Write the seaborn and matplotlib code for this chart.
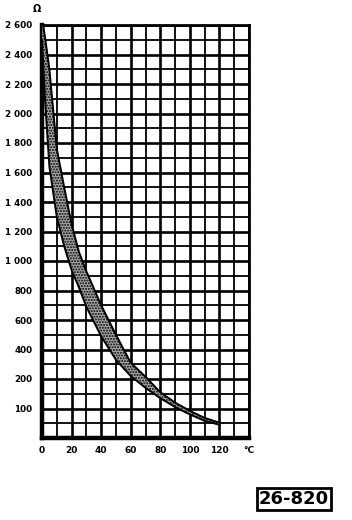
import numpy as np
import pandas as pd
import matplotlib
matplotlib.use("Agg")
import matplotlib.pyplot as plt
import seaborn as sns

# ---- data ----
temps_c = [0, 2, 5, 10, 15, 20, 25, 30, 40, 50, 60, 70, 80, 90, 100, 110, 120]
r_high = [2650, 2520, 2300, 1760, 1500, 1250, 1060, 930, 700, 500, 310, 215, 155, 120, 92, 68, 52]
r_low = [2500, 2100, 1640, 1300, 1100, 940, 820, 690, 490, 330, 220, 170, 135, 105, 80, 58, 45]

x_tick_vals = [0, 20, 40, 60, 80, 100, 120, 140]
x_tick_labels = ["0", "20", "40", "60", "80", "100", "120", "°C"]
y_tick_vals = [2600, 2400, 2200, 2000, 1800, 1600, 1400, 1200, 1000, 800, 600, 400, 200, 100]
y_tick_labels = ["2 600", "2 400", "2 200", "2 000", "1 800", "1 600", "1 400",
                 "1 200", "1 000", "800", "600", "400", "200", "100"]
y_minor_vals = [2500, 2300, 2100, 1900, 1700, 1500, 1300, 1100, 900, 700, 500, 300, 150, 50]
code_label = "26-820"

df = pd.DataFrame({"T": temps_c, "high": r_high, "low": r_low})

sns.set_style("white")
plt.rcParams["font.family"] = ["DejaVu Sans"]
plt.rcParams["text.color"] = "black"
plt.rcParams["xtick.color"] = "black"
plt.rcParams["ytick.color"] = "black"

fig = plt.figure(figsize=(3.52, 5.2), dpi=100)
ax = fig.add_axes([42 / 352, 1 - 438 / 520, (249 - 42) / 352, (438 - 25) / 520])

# chart's custom vertical scale: 100 ohm per row above 200, 50 ohm per row below
def fwd(v):
    v = np.asarray(v, dtype=float)
    return np.where(v >= 200, v, 2 * v - 200)

def inv(p):
    p = np.asarray(p, dtype=float)
    return np.where(p >= 200, p, (p + 200) / 2)

ax.set_yscale("function", functions=(fwd, inv))

ax.fill_between(df["T"], df["low"], df["high"], facecolor="#a8a8a8",
                hatch="......", edgecolor="black", linewidth=0, zorder=3)
sns.lineplot(data=df, x="T", y="high", color="black", linewidth=1.4, ax=ax, zorder=4)
sns.lineplot(data=df, x="T", y="low", color="black", linewidth=1.4, ax=ax, zorder=4)

ax.set_xlim(0, 140)
ax.set_ylim(0, 2600)

ax.set_xticks(x_tick_vals)
ax.set_xticklabels(x_tick_labels)
ax.set_xticks(list(range(10, 140, 20)), minor=True)
ax.set_yticks(y_tick_vals)
ax.set_yticklabels(y_tick_labels)
ax.set_yticks(y_minor_vals, minor=True)

ax.grid(which="major", color="black", linewidth=1.9, zorder=1)
ax.grid(which="minor", color="black", linewidth=1.3, zorder=1)
ax.set_axisbelow(True)

ax.tick_params(which="both", length=0, labelcolor="black")
ax.tick_params(axis="y", pad=7, labelsize=6.3)
ax.tick_params(axis="x", pad=6, labelsize=6.5)
for lab in ax.get_xticklabels() + ax.get_yticklabels():
    lab.set_fontweight("bold")
    lab.set_color("black")

for side, lw in (("left", 3.2), ("bottom", 3.2), ("top", 2.0), ("right", 2.0)):
    ax.spines[side].set_visible(True)
    ax.spines[side].set_color("black")
    ax.spines[side].set_linewidth(lw)

ax.set_xlabel("")
ax.set_ylabel("")

fig.text(37 / 352, 1 - 9 / 520, "Ω", ha="center", va="center",
         fontsize=7, fontweight="bold", color="black")

fig.text(294 / 352, 1 - 499 / 520, code_label, ha="center", va="center",
         fontsize=13, fontweight="bold", color="black",
         bbox=dict(boxstyle="square,pad=0.12", facecolor="white",
                   edgecolor="black", linewidth=2))

fig.savefig("out.png", dpi=100)
